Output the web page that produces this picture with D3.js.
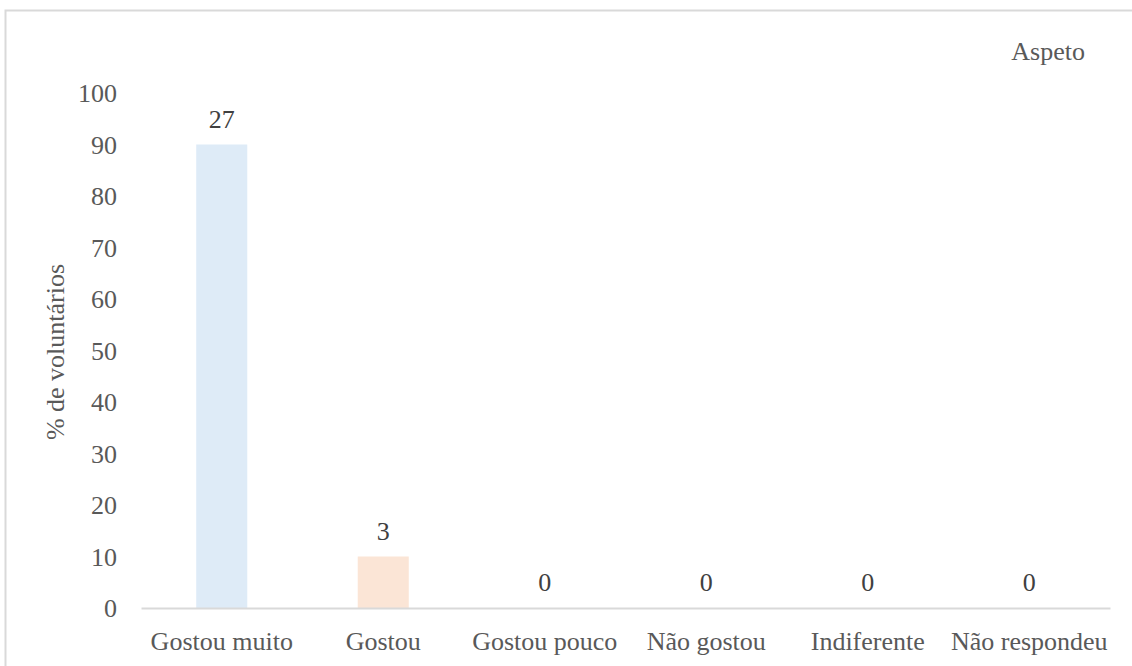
<!DOCTYPE html>
<html><head><meta charset="utf-8">
<script src="https://cdn.jsdelivr.net/npm/d3@7"></script>
<style>body{margin:0;background:#fff}svg{display:block}text{font-family:"Liberation Serif","Times New Roman",serif}</style>
</head><body>
<svg id="c" width="1132" height="666"></svg>
<script>
const categories = ["Gostou muito","Gostou","Gostou pouco","Não gostou","Indiferente","Não respondeu"];
const percentValues = [90, 10, 0, 0, 0, 0];
const countLabels = [27, 3, 0, 0, 0, 0];
const barColors = ["#deebf7","#fbe5d6","#e2f0d9","#fff2cc","#dae3f3","#ededed"];
const yTicks = [0,10,20,30,40,50,60,70,80,90,100];
const legendText = "Aspeto";
const yTitle = "% de voluntários";

(function(){
const svg = d3.select("#c");
const pLeft = 141, pRight = 1110, pTop = 93, pBottom = 608;
const fs = 26;

svg.append("rect").attr("x",5.5).attr("y",10.5).attr("width",1140).attr("height",700)
  .attr("fill","none").attr("stroke","#d9d9d9").attr("stroke-width",2);

const x = d3.scaleBand().domain(categories).range([pLeft,pRight]).paddingInner(0.684).paddingOuter(0.342);
const y = d3.scaleLinear().domain([0,100]).range([pBottom,pTop]);

svg.selectAll("rect.bar").data(categories).enter().append("rect")
  .attr("class","bar")
  .attr("x",d=>x(d)).attr("width",x.bandwidth())
  .attr("y",(d,i)=>y(percentValues[i]))
  .attr("height",(d,i)=>y(0)-y(percentValues[i]))
  .attr("fill",(d,i)=>barColors[i]);

const xAxis = svg.append("g").attr("transform",`translate(0,${pBottom})`)
  .call(d3.axisBottom(x).tickSize(0).tickPadding(0).tickSizeOuter(0));
xAxis.attr("font-family",null);
xAxis.select(".domain").attr("stroke","#d9d9d9").attr("stroke-width",2);
xAxis.selectAll("text").attr("font-size",fs).attr("fill","#595959")
  .attr("dy",null).attr("y",42);

const yAxis = svg.append("g").attr("transform",`translate(117,0)`)
  .call(d3.axisLeft(y).tickValues(yTicks).tickSize(0).tickPadding(0));
yAxis.attr("font-family",null);
yAxis.select(".domain").remove();
yAxis.selectAll("text").attr("font-size",fs).attr("fill","#595959")
  .attr("dy","0.34em");

svg.selectAll("text.val").data(categories).enter().append("text")
  .attr("class","val")
  .attr("x",d=>x(d)+x.bandwidth()/2)
  .attr("y",(d,i)=>y(percentValues[i])-17)
  .attr("text-anchor","middle").attr("font-size",fs).attr("fill","#404040")
  .text((d,i)=>countLabels[i]);

svg.append("text").attr("transform","translate(64,352) rotate(-90)")
  .attr("text-anchor","middle").attr("font-size",fs).attr("fill","#595959").text(yTitle);

svg.append("text").attr("x",1085).attr("y",60).attr("text-anchor","end")
  .attr("font-size",fs).attr("fill","#595959").text(legendText);
})();
</script>
</body></html>
